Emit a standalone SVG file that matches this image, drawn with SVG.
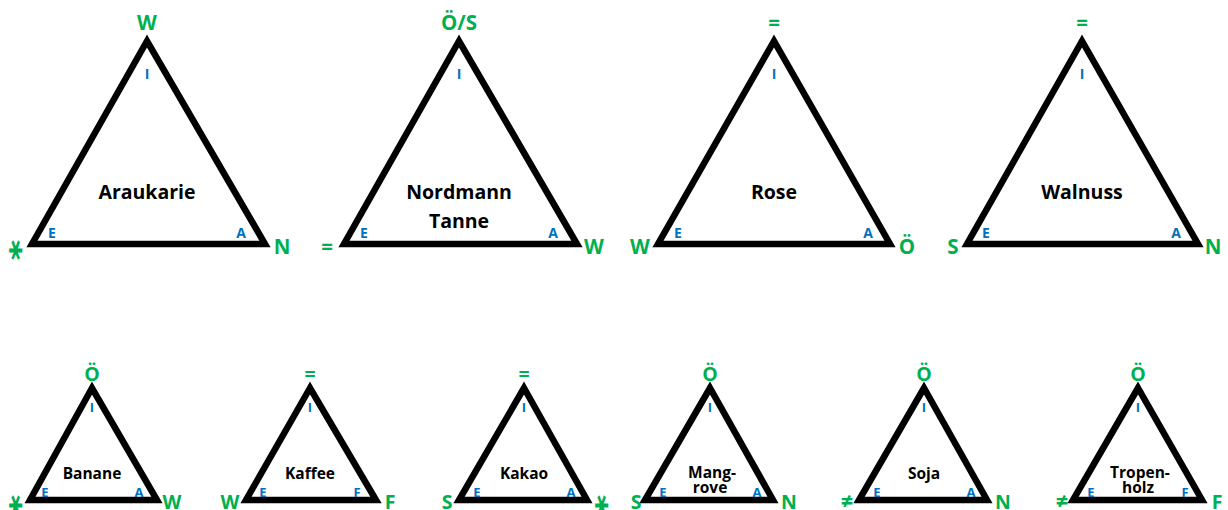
<svg xmlns="http://www.w3.org/2000/svg" width="1228" height="510" viewBox="0 0 1228 510">
  <style>
    text { font-family: "Open Sans", Lato, "Liberation Sans", sans-serif; font-weight: bold; text-anchor: middle; }
    .tri { fill: #ffffff; stroke: #000000; stroke-width: 6.5; stroke-linejoin: miter; }
    .pole { fill: #00B050; }
    .pole-l { font-size: 20.5px; }
    .pole-s { font-size: 19.5px; }
    .corner { fill: #0070C0; }
    .corner-l { font-size: 14px; }
    .corner-s { font-size: 13px; }
    .name-l { fill: #000000; font-size: 19.5px; }
    .name-s { fill: #000000; font-size: 15.5px; }
    .sym { font-family: "DejaVu Sans", sans-serif; font-weight: bold; font-size: 26px; }
    .neq { font-size: 22px; }
  </style>
  <rect width="1228" height="510" fill="#ffffff"/>

  <!-- large triangles -->
  <g id="araukarie">
    <polygon class="tri" points="147,41 32,244 265,244"/>
    <text class="pole pole-l" x="147" y="30">W</text>
    <text class="corner corner-l" x="147" y="79">I</text>
    <text class="corner corner-l" x="52" y="238">E</text>
    <text class="corner corner-l" x="241" y="238">A</text>
    <text class="name-l" x="147" y="199">Araukarie</text>
    <text class="pole sym" transform="translate(15,248) scale(0.85,1.35)" x="0" y="8">⚹</text>
    <text class="pole pole-l" x="282" y="254">N</text>
  </g>

  <g id="nordmanntanne">
    <polygon class="tri" points="459,41 344,244 577,244"/>
    <text class="pole pole-l" x="459" y="30">Ö/S</text>
    <text class="corner corner-l" x="459" y="79">I</text>
    <text class="corner corner-l" x="364" y="238">E</text>
    <text class="corner corner-l" x="553" y="238">A</text>
    <text class="name-l" x="459" y="199">Nordmann</text>
    <text class="name-l" x="459" y="228">Tanne</text>
    <text class="pole pole-l" x="327" y="254">=</text>
    <text class="pole pole-l" x="594" y="254">W</text>
  </g>

  <g id="rose">
    <polygon class="tri" points="774,41 658,244 890,244"/>
    <text class="pole pole-l" x="774" y="30">=</text>
    <text class="corner corner-l" x="774" y="79">I</text>
    <text class="corner corner-l" x="678" y="238">E</text>
    <text class="corner corner-l" x="868" y="238">A</text>
    <text class="name-l" x="774" y="199">Rose</text>
    <text class="pole pole-l" x="640" y="254">W</text>
    <text class="pole pole-l" x="907" y="254">Ö</text>
  </g>

  <g id="walnuss">
    <polygon class="tri" points="1082,41 967,244 1198,244"/>
    <text class="pole pole-l" x="1082" y="30">=</text>
    <text class="corner corner-l" x="1082" y="79">I</text>
    <text class="corner corner-l" x="986" y="238">E</text>
    <text class="corner corner-l" x="1176" y="238">A</text>
    <text class="name-l" x="1082" y="199">Walnuss</text>
    <text class="pole pole-l" x="953" y="254">S</text>
    <text class="pole pole-l" x="1213" y="254">N</text>
  </g>

  <!-- small triangles -->
  <g id="banane">
    <polygon class="tri" points="92,388 30,500 157,500"/>
    <text class="pole pole-s" x="92" y="381">Ö</text>
    <text class="corner corner-s" x="92" y="412">I</text>
    <text class="corner corner-s" x="45" y="497">E</text>
    <text class="corner corner-s" x="139" y="497">A</text>
    <text class="name-s" x="92" y="479">Banane</text>
    <text class="pole sym" transform="translate(15,503) scale(0.85,1.35)" x="0" y="8">⚹</text>
    <text class="pole pole-s" x="172" y="509">W</text>
  </g>

  <g id="kaffee">
    <polygon class="tri" points="310,388 246,500 376,500"/>
    <text class="pole pole-s" x="310" y="381">=</text>
    <text class="corner corner-s" x="310" y="412">I</text>
    <text class="corner corner-s" x="263" y="497">E</text>
    <text class="corner corner-s" x="357" y="497">F</text>
    <text class="name-s" x="310" y="479">Kaffee</text>
    <text class="pole pole-s" x="230" y="509">W</text>
    <text class="pole pole-s" x="390" y="509">F</text>
  </g>

  <g id="kakao">
    <polygon class="tri" points="524,388 459,500 587,500"/>
    <text class="pole pole-s" x="524" y="381">=</text>
    <text class="corner corner-s" x="524" y="412">I</text>
    <text class="corner corner-s" x="477" y="497">E</text>
    <text class="corner corner-s" x="571" y="497">A</text>
    <text class="name-s" x="524" y="479">Kakao</text>
    <text class="pole pole-s" x="447" y="509">S</text>
    <text class="pole sym" transform="translate(601,503) scale(0.85,1.35)" x="0" y="8">⚹</text>
  </g>

  <g id="mangrove">
    <polygon class="tri" points="710,388 645,500 773,500"/>
    <text class="pole pole-s" x="710" y="381">Ö</text>
    <text class="corner corner-s" x="710" y="412">I</text>
    <text class="corner corner-s" x="663" y="497">E</text>
    <text class="corner corner-s" x="757" y="497">A</text>
    <text class="name-s" x="712" y="478">Mang-</text>
    <text class="name-s" x="710" y="493">rove</text>
    <text class="pole pole-s" x="636" y="509">S</text>
    <text class="pole pole-s" x="789" y="509">N</text>
  </g>

  <g id="soja">
    <polygon class="tri" points="924,388 859,500 987,500"/>
    <text class="pole pole-s" x="924" y="381">Ö</text>
    <text class="corner corner-s" x="924" y="412">I</text>
    <text class="corner corner-s" x="877" y="497">E</text>
    <text class="corner corner-s" x="971" y="497">A</text>
    <text class="name-s" x="924" y="479">Soja</text>
    <text class="pole neq" x="847" y="509">≠</text>
    <text class="pole pole-s" x="1003" y="509">N</text>
  </g>

  <g id="tropenholz">
    <polygon class="tri" points="1138,388 1073,500 1202,500"/>
    <text class="pole pole-s" x="1138" y="381">Ö</text>
    <text class="corner corner-s" x="1138" y="412">I</text>
    <text class="corner corner-s" x="1091" y="497">E</text>
    <text class="corner corner-s" x="1185" y="497">F</text>
    <text class="name-s" x="1140" y="478">Tropen-</text>
    <text class="name-s" x="1138" y="493">holz</text>
    <text class="pole neq" x="1062" y="509">≠</text>
    <text class="pole pole-s" x="1217" y="509">F</text>
  </g>

  <g id="connectors"/>
</svg>
